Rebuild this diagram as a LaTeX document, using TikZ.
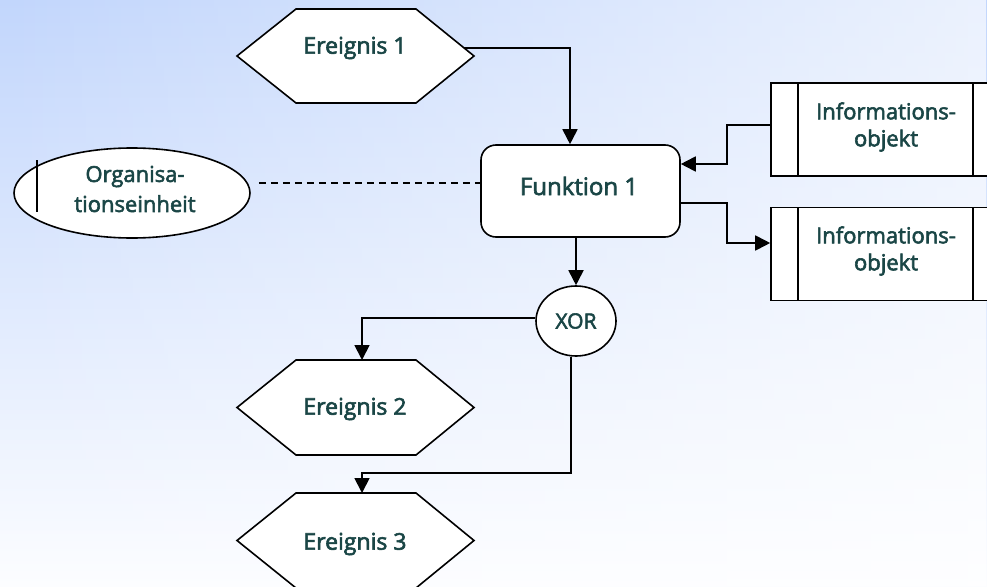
\documentclass[tikz,border=0pt]{standalone}
\usepackage{fontspec}
\setmainfont{Open Sans}
\newfontfamily\lblfont{Open Sans}[FakeBold=2.6]
\usetikzlibrary{arrows.meta,fadings,shapes.geometric}
\definecolor{txt}{RGB}{26,70,70}
\definecolor{bgblue}{RGB}{194,214,252}
\tikzfading[name=fadeToRight, left color=transparent!100, right color=transparent!0]
\begin{document}
\begin{tikzpicture}[x=1pt,y=-1pt,
  lbl/.style={text=txt,font=\lblfont\fontsize{23}{27}\selectfont,align=center,inner sep=0pt},
  shp/.style={draw=black,fill=white,line width=1.6pt,line join=miter},
  boxnode/.style={shp,rectangle,minimum width=199pt,minimum height=92pt,rounded corners=15pt,inner sep=0pt},
  infonode/.style={shp,rectangle,minimum width=229pt,minimum height=93pt,inner sep=0pt},
  con/.style={draw=black,line width=1.8pt},
  arr/.style={con,-{Triangle[length=15pt,width=15pt]}},
]
\useasboundingbox (0,0) rectangle (987,586);
\begin{scope}
\clip (0,0) rectangle (987,586);
\shade[top color=bgblue,bottom color={rgb,255:red,252;green,253;blue,255}] (0,0) rectangle (987,586);
\fill[white,path fading=fadeToRight,opacity=0.68] (0,0) rectangle (987,586);

% events
\draw[shp] (237,56) -- (296,9) -- (416,9) -- (474,56) -- (416,103) -- (296,103) -- cycle;
\node[lbl] (e1) at (355,48) {Ereignis 1};
\coordinate (e1R) at (464,48);

\draw[shp] (237,407.5) -- (296,360) -- (416,360) -- (474,407.5) -- (416,455) -- (296,455) -- cycle;
\node[lbl] (e2) at (355,409) {Ereignis 2};
\coordinate (e2T) at (362,360);

\draw[shp] (237,540.5) -- (296,493) -- (416,493) -- (474,540.5) -- (416,588) -- (296,588) -- cycle;
\node[lbl] (e3) at (355,544) {Ereignis 3};
\coordinate (e3T) at (362,493);

% function
\node[boxnode] (f1) at (580.5,191) {};
\node[lbl,font=\lblfont\fontsize{24}{28}\selectfont] (f1t) at (579,186) {Funktion 1};

% information objects
\node[infonode] (i1) at (885.5,129.5) {};
\draw[line width=1.6pt] (798,83) -- (798,176) (973,83) -- (973,176);
\node[lbl,font=\lblfont\fontsize{22}{27}\selectfont] (i1t) at (886,127) {Informations-\\objekt};

\node[infonode] (i2) at (885.5,254) {};
\draw[line width=1.6pt] (798,208) -- (798,300) (973,208) -- (973,300);
\node[lbl,font=\lblfont\fontsize{22}{27}\selectfont] (i2t) at (886,251) {Informations-\\objekt};

% organisation unit
\node[shp,ellipse,minimum width=236pt,minimum height=90pt,inner sep=0pt] (org) at (132,193) {};
\draw[line width=1.6pt] (37,160) -- (37,212);
\node[lbl,font=\lblfont\fontsize{22}{30}\selectfont] (orgt) at (135,189) {Organisa-\\tionseinheit};

% XOR
\node[shp,ellipse,minimum width=80pt,minimum height=70pt,inner sep=0pt,text=txt,font=\lblfont\fontsize{21}{24}\selectfont] (xor) at (576,321) {XOR};

% connectors
\draw[arr] (e1R) -| (570,0 |- f1.north);
\draw[arr] (i1.west |- 0,125) -- (727,125) |- (f1.east |- 0,164);
\draw[arr] (f1.east |- 0,203) -- (727,203) |- (i2.west |- 0,243);
\draw[arr] (f1.south -| 576,0) -- (xor.north);
\draw[arr] (xor.west |- 0,318) -| (e2T);
\draw[con] (xor.south -| 571,0) -- (571,473) -| (362,480);
\draw[arr] (362,473) -- (e3T);
\draw[con,line width=1.3pt,dash pattern=on 7pt off 5pt] (org.east |- 0,183) ++(8,0) -- (f1.west |- 0,183);
\end{scope}
\end{tikzpicture}
\end{document}
